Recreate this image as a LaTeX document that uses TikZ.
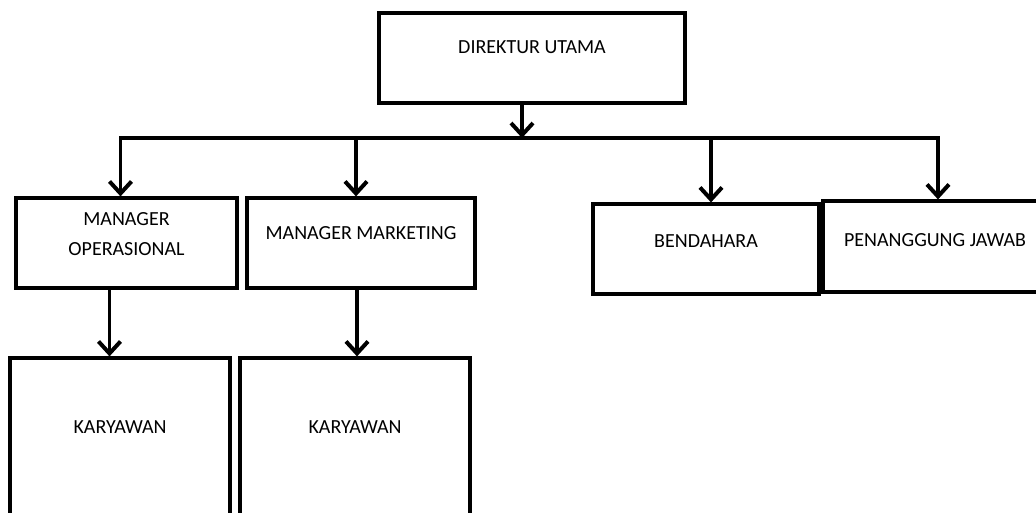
\documentclass[tikz,border=0pt]{standalone}
\usepackage{fontspec}
\setmainfont{Carlito}
\usetikzlibrary{arrows.meta}
\tikzset{
  box/.style={draw, line width=3.2pt, inner sep=0pt},
  boxlabel/.style={font=\fontsize{20}{30}\selectfont, text=black, align=center, anchor=center},
  arr/.style={line width=3.2pt, -{Straight Barb[length=12pt,width=22pt,line width=4pt]}},
}
\begin{document}
\begin{tikzpicture}[x=1pt,y=-1pt]
        \useasboundingbox (0,0) rectangle (1036,513);
        \clip (0,0) rectangle (1036,513);

        % kotak-kotak
        \node[box, minimum width=306pt, minimum height=90pt,
              label={[boxlabel,yshift=-36pt]north:DIREKTUR UTAMA}] (dir) at (532,58) {};
        \node[box, minimum width=221pt, minimum height=90pt,
              label={[boxlabel,yshift=-38pt]north:MANAGER\\OPERASIONAL}] (mo) at (126.5,243) {};
        \node[box, minimum width=228pt, minimum height=90pt,
              label={[boxlabel,yshift=-36.5pt]north:MANAGER MARKETING}] (mm) at (361,243) {};
        \node[box, minimum width=226pt, minimum height=90pt,
              label={[boxlabel,yshift=-38.5pt]north:BENDAHARA}] (bd) at (706,249) {};
        \node[box, minimum width=224pt, minimum height=91pt,
              label={[boxlabel,yshift=-40.5pt]north:PENANGGUNG JAWAB}] (pj) at (935,246.5) {};
        \node[box, minimum width=220pt, minimum height=242pt,
              label={[boxlabel,yshift=-70.5pt]north:KARYAWAN}] (ky1) at (120,479) {};
        \node[box, minimum width=230pt, minimum height=242pt,
              label={[boxlabel,yshift=-70.5pt]north:KARYAWAN}] (ky2) at (355,479) {};

        % garis penghubung
        \coordinate (bus) at (522,138);
        \draw[arr] ([xshift=-10pt]dir.south) -- (bus);
        \draw[arr] (bus) -| ([xshift=-6pt]mo.north);
        \draw[arr] (bus) -| ([xshift=-5pt]mm.north);
        \draw[arr] (bus) -| ([xshift=5pt]bd.north);
        \draw[arr] (bus) -| ([xshift=3pt]pj.north);
        \draw[arr] ([xshift=-17pt]mo.south) -- ([xshift=-17pt]mo.south |- ky1.north);
        \draw[arr] ([xshift=-4pt]mm.south) -- ([xshift=-4pt]mm.south |- ky2.north);
\end{tikzpicture}
\end{document}
